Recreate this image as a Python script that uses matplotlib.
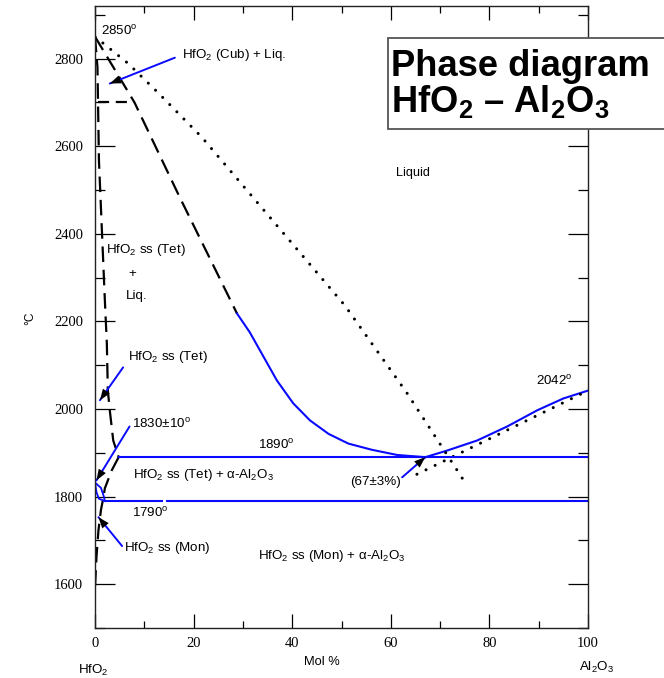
import matplotlib
matplotlib.use("Agg")
import matplotlib.pyplot as plt
from matplotlib import font_manager
from matplotlib.patches import Rectangle
from matplotlib.ticker import MultipleLocator

# ---------------- data ----------------
x_ticks = [0, 20, 40, 60, 80, 100]
y_ticks = [1600, 1800, 2000, 2200, 2400, 2600, 2800]

liq_dash_x = [0, 8, 17.2, 28.8]
liq_dash_t = [2850, 2700, 2483, 2218]
liq_left_x = [28.8, 31.4, 33.8, 36.9, 40.2, 43.6, 47.4, 51.4, 56.1, 61.3, 67]
liq_left_t = [2218, 2175, 2127, 2065, 2013, 1974, 1943, 1921, 1907, 1895, 1890]
liq_right_x = [67, 71.4, 77.5, 83.6, 89.7, 95, 100]
liq_right_t = [1890, 1905, 1928, 1960, 1997, 2024, 2042]
dot1_x = [0, 6.7, 12.8, 21.7, 50.7, 63.3, 75.3]
dot1_t = [2850, 2789, 2722, 2620, 2236, 2036, 1828]
dot2_x = [65.3, 100]
dot2_t = [1851, 2042]
tet_sol_x = [0, 0.5, 0.8, 2.0, 2.4, 2.6, 3.0, 3.7, 4.8]
tet_sol_t = [2850, 2780, 2567, 2248, 2150, 2043, 1997, 1928, 1890]
tet_mon_x = [4.8, 3.4, 2.0, 1.7, 1.2, 0.7, 0.3, 0]
tet_mon_t = [1890, 1860, 1819, 1798, 1769, 1723, 1662, 1590]
cub_x = [0.6, 8]
cub_t = [2700, 2700]
eut_x = [4.8, 100]
eut_t = [1890, 1890]
mon_a_x = [1.8, 13.6]
mon_b_x = [14.6, 100]
mon_t = [1790, 1790]
lens_up_x = [0, 1.2, 1.8, 2.0]
lens_up_t = [1832, 1820, 1800, 1790]
lens_lo_x = [0, 0.3, 0.8, 2.0]
lens_lo_t = [1832, 1810, 1795, 1790]

# ---------------- fonts ----------------
names = {f.name for f in font_manager.fontManager.ttflist}
if "Liberation Sans Narrow" in names:
    SANS = ["Liberation Sans Narrow", "Liberation Sans", "DejaVu Sans"]
    FS = 11
else:
    SANS = ["Liberation Sans", "DejaVu Sans"]
    FS = 9.6
SERIF = ["Liberation Serif", "DejaVu Serif"]

plt.rcParams["font.family"] = SANS
plt.rcParams["mathtext.fontset"] = "custom"
plt.rcParams["mathtext.rm"] = "Liberation Sans"
plt.rcParams["mathtext.bf"] = "Liberation Sans:bold"

W, H = 664, 678
fig = plt.figure(figsize=(W / 100, H / 100), dpi=100)
ax = fig.add_axes([95 / W, 50 / H, 493 / W, 622 / H])
ax.set_xlim(0, 100)
ax.set_ylim(1500, 2920)

BLUE = "#0a0aff"
dash = (0, (7, 3.5))
dots = (0, (0.01, 3.3))

ax.plot(liq_dash_x, liq_dash_t, color="black", lw=1.6, linestyle=dash)
ax.plot(liq_left_x, liq_left_t, color=BLUE, lw=1.5)
ax.plot(liq_right_x, liq_right_t, color=BLUE, lw=1.5)
ax.plot(dot1_x, dot1_t, color="black", lw=2.2, linestyle=dots, dash_capstyle="round")
ax.plot(dot2_x, dot2_t, color="black", lw=2.2, linestyle=dots, dash_capstyle="round")
ax.plot(tet_sol_x, tet_sol_t, color="black", lw=1.6, linestyle=dash)
ax.plot(tet_mon_x, tet_mon_t, color="black", lw=1.6, linestyle=dash)
ax.plot(cub_x, cub_t, color="black", lw=1.6, linestyle=(0, (5, 3)))
ax.plot(eut_x, eut_t, color=BLUE, lw=1.5)
ax.plot(mon_a_x, mon_t, color=BLUE, lw=1.5)
ax.plot(mon_b_x, mon_t, color=BLUE, lw=1.5)
ax.plot(lens_up_x, lens_up_t, color=BLUE, lw=1.3)
ax.plot(lens_lo_x, lens_lo_t, color=BLUE, lw=1.3)

# ticks
ax.set_xticks(x_ticks)
ax.set_yticks(y_ticks)
ax.xaxis.set_minor_locator(MultipleLocator(10))
ax.yaxis.set_minor_locator(MultipleLocator(100))
ax.tick_params(axis="both", which="both", direction="in", top=True, right=True,
               width=0.9, color="black")
ax.tick_params(axis="y", which="major", length=14.4, pad=8.5)
ax.tick_params(axis="y", which="minor", length=7.2)
ax.tick_params(axis="x", which="major", length=10, pad=6.5)
ax.tick_params(axis="x", which="minor", length=5)
for lab in ax.get_xticklabels() + ax.get_yticklabels():
    lab.set_family(SERIF)
    lab.set_fontsize(10.5)
for s in ax.spines.values():
    s.set_linewidth(1.0)
    s.set_color("#222222")

# annotations with arrows
def arrow(start, tip):
    ax.annotate("", xy=tip, xytext=start,
                arrowprops=dict(arrowstyle="-", color=BLUE, lw=1.4,
                                shrinkA=0, shrinkB=0))
    ax.annotate("", xy=tip, xytext=start,
                arrowprops=dict(arrowstyle="-|>,head_length=0.8,head_width=0.3",
                                color="black", lw=0, shrinkA=0, shrinkB=0))

sub2 = r"$_\mathregular{2}$"
sub3 = r"$_\mathregular{3}$"
deg = r"$^\mathregular{o}$"

ax.text(1.2, 2864, "2850" + deg, fontsize=FS, va="center", ha="left")
ax.text(17.6, 2807, "HfO" + sub2 + " (Cub) + Liq.", fontsize=FS, va="center", ha="left")
arrow((16.2, 2802), (3.0, 2743))

ax.text(2.2, 2362, "HfO" + sub2 + " ss (Tet)", fontsize=FS, va="center", ha="left")
ax.text(7.5, 2309, "+", fontsize=FS, va="center", ha="center")
ax.text(6.3, 2259, "Liq.", fontsize=FS, va="center", ha="left")

ax.text(6.6, 2118, "HfO" + sub2 + " ss (Tet)", fontsize=FS, va="center", ha="left")
arrow((5.7, 2095), (1.0, 2020))

ax.text(7.6, 1967, "1830±10" + deg, fontsize=FS, va="center", ha="left")
arrow((7.0, 1960), (0.3, 1837))

ax.text(33, 1917, "1890" + deg, fontsize=FS, va="center", ha="left")
ax.text(7.8, 1849, "HfO" + sub2 + " ss (Tet) + α-Al" + sub2 + "O" + sub3,
        fontsize=FS, va="center", ha="left")
ax.text(7.6, 1762, "1790" + deg, fontsize=FS, va="center", ha="left")

ax.text(62, 1833, "(67±3%)", fontsize=FS, va="center", ha="right")
arrow((62.3, 1844), (67, 1890))

ax.text(89.5, 2065, "2042" + deg, fontsize=FS, va="center", ha="left")
ax.text(61, 2538, "Liquid", fontsize=FS - 0.5, va="center", ha="left")

ax.text(5.8, 1682, "HfO" + sub2 + " ss (Mon)", fontsize=FS, va="center", ha="left")
arrow((5.5, 1687), (0.7, 1753))

ax.text(33, 1664, "HfO" + sub2 + " ss (Mon) + α-Al" + sub2 + "O" + sub3,
        fontsize=FS, va="center", ha="left")

# axis labels
fig.text(322 / W, 1 - 662 / H, "Mol %", fontsize=FS - 0.3, ha="center", va="center")
fig.text(93 / W, 1 - 670 / H, "HfO" + sub2, fontsize=FS, ha="center", va="center")
fig.text(596 / W, 1 - 667 / H, "Al" + sub2 + "O" + sub3, fontsize=FS, ha="center", va="center")
fig.text(30 / W, 1 - 318 / H, "°C", fontsize=FS - 1, rotation=90, ha="center", va="center")

# title box
fig.add_artist(Rectangle((388 / W, 1 - 129 / H), 0.5, 91 / H, transform=fig.transFigure,
                         facecolor="white", edgecolor="#555555", lw=1.3, zorder=5,
                         clip_on=False))
fig.text(391 / W, 1 - 76 / H, "Phase diagram", fontsize=26.2, fontweight="bold",
         family=["Liberation Sans", "DejaVu Sans"], ha="left", va="baseline", zorder=6)
fig.text(391 / W, 1 - 112 / H, r"HfO$_\mathbf{2}$ – Al$_\mathbf{2}$O$_\mathbf{3}$",
         fontsize=26.2, fontweight="bold", family=["Liberation Sans", "DejaVu Sans"],
         ha="left", va="baseline", zorder=6)

fig.savefig("out.png", dpi=100)
